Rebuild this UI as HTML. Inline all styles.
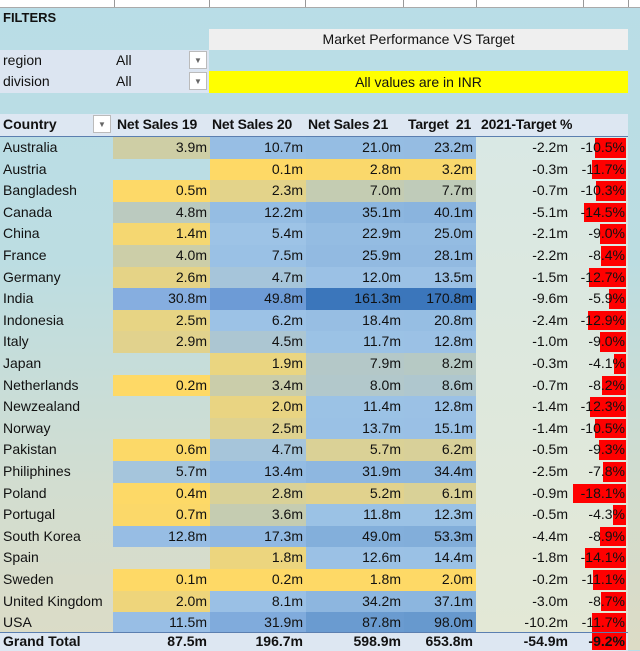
<!DOCTYPE html>
<html><head><meta charset="utf-8">
<style>
body{margin:0;width:640px;height:650px;overflow:hidden;font-family:"Liberation Sans",sans-serif;font-size:14px;color:#111;
background:linear-gradient(180deg,#b9dde7 0%,#bcdde2 40%,#d2ddd0 75%,#dcdcc6 100%);position:relative}
.a{position:absolute;white-space:nowrap}
.grid{position:absolute;top:0;height:18px;border-left:1px solid #999;}
.c{position:absolute;height:21.6px;line-height:21.6px;box-sizing:border-box;white-space:nowrap}
.r{text-align:right;padding-right:3px}
.dd{position:absolute;width:18px;height:18px;background:#fff;border:1px solid #bbb;box-sizing:border-box;font-size:8px;color:#666;text-align:center;line-height:18px}
</style></head><body>
<div class="a" style="left:0;top:0;width:640px;height:7px;background:#fff;border-bottom:1px solid #aaa"></div>
<div class="grid" style="left:114px;height:7px"></div><div class="grid" style="left:209px;height:7px"></div><div class="grid" style="left:305px;height:7px"></div><div class="grid" style="left:403px;height:7px"></div><div class="grid" style="left:476px;height:7px"></div><div class="grid" style="left:583px;height:7px"></div><div class="grid" style="left:628px;height:7px"></div>
<div class="a" style="left:3px;top:10px;font-weight:bold;font-size:13px">FILTERS</div>
<div class="a" style="left:209px;top:29px;width:419px;height:21px;background:#efefef;text-align:center;line-height:21px">Market Performance VS Target</div>
<div class="a" style="left:0;top:50px;width:209px;height:43px;background:#dce5f1"></div>
<div class="a" style="left:3px;top:52px">region</div><div class="a" style="left:116px;top:52px">All</div>
<div class="a" style="left:3px;top:73px">division</div><div class="a" style="left:116px;top:73px">All</div>
<div class="dd" style="left:189px;top:51px">▼</div><div class="dd" style="left:189px;top:72px">▼</div>
<div class="a" style="left:209px;top:71px;width:419px;height:22px;background:#ffff00;text-align:center;line-height:22px">All values are in INR</div>
<div class="a" style="left:0;top:114px;width:628px;height:22px;background:#dde7f2;border-bottom:1px solid #5b7fb0"></div>
<div class="dd" style="left:93px;top:115px">▼</div>
<div class="a" style="left:3px;top:116px;font-weight:bold">Country</div>
<div class="a" style="left:117px;top:116px;font-weight:bold;letter-spacing:-0.2px">Net Sales 19</div>
<div class="a" style="left:212px;top:116px;font-weight:bold;letter-spacing:-0.2px">Net Sales 20</div>
<div class="a" style="left:308px;top:116px;font-weight:bold;letter-spacing:-0.2px">Net Sales 21</div>
<div class="a" style="left:408px;top:116px;font-weight:bold;letter-spacing:-0.2px">Target&nbsp; 21</div>
<div class="a" style="left:481px;top:116px;font-weight:bold;letter-spacing:-0.2px">2021-Target %</div>
<div class="a" style="left:476px;top:137px;width:152px;height:495px;background:linear-gradient(180deg,#d9e8e4,#e3e8d6)"></div>
<div id="rows"></div>
<script>
var d=[["Australia",3.9,10.7,21.0,23.2,-2.2,-10.5],["Austria",null,0.1,2.8,3.2,-0.3,-11.7],["Bangladesh",0.5,2.3,7.0,7.7,-0.7,-10.3],["Canada",4.8,12.2,35.1,40.1,-5.1,-14.5],["China",1.4,5.4,22.9,25.0,-2.1,-9.0],["France",4.0,7.5,25.9,28.1,-2.2,-8.4],["Germany",2.6,4.7,12.0,13.5,-1.5,-12.7],["India",30.8,49.8,161.3,170.8,-9.6,-5.9],["Indonesia",2.5,6.2,18.4,20.8,-2.4,-12.9],["Italy",2.9,4.5,11.7,12.8,-1.0,-9.0],["Japan",null,1.9,7.9,8.2,-0.3,-4.1],["Netherlands",0.2,3.4,8.0,8.6,-0.7,-8.2],["Newzealand",null,2.0,11.4,12.8,-1.4,-12.3],["Norway",null,2.5,13.7,15.1,-1.4,-10.5],["Pakistan",0.6,4.7,5.7,6.2,-0.5,-9.3],["Philiphines",5.7,13.4,31.9,34.4,-2.5,-7.8],["Poland",0.4,2.8,5.2,6.1,-0.9,-18.1],["Portugal",0.7,3.6,11.8,12.3,-0.5,-4.3],["South Korea",12.8,17.3,49.0,53.3,-4.4,-8.9],["Spain",null,1.8,12.6,14.4,-1.8,-14.1],["Sweden",0.1,0.2,1.8,2.0,-0.2,-11.1],["United Kingdom",2.0,8.1,34.2,37.1,-3.0,-8.7],["USA",11.5,31.9,87.8,98.0,-10.2,-11.7]];
var cols=[[113,210],[210,306],[306,404],[404,476]];
function mix(a,b,t){t=Math.max(0,Math.min(1,t));return 'rgb('+a.map((x,i)=>Math.round(x+(b[i]-x)*t)).join(',')+')'}
var Y=[254,217,102],M=[157,195,230];
var mids=[6,5,9,9.5];
var Ds=[[134,174,224],[109,155,214],[59,118,187],[59,118,187]];
var h='';
for(var c=0;c<4;c++){var v=d.map(r=>r[c+1]).filter(x=>x!=null).sort((a,b)=>a-b);var med=mids[c],mx=v[v.length-1],mn=v[0];
d.forEach((r,i)=>{var x=r[c+1];if(x==null)return;var col=x<=med?mix(Y,M,Math.pow((x-mn)/(med-mn),1.6)):mix(M,Ds[c],(x-med)/(mx-med));
h+='<div class="c r" style="left:'+cols[c][0]+'px;width:'+(cols[c][1]-cols[c][0])+'px;top:'+(137+i*21.6)+'px;background:'+col+'">'+x.toFixed(1)+'m</div>';});}
d.forEach((r,i)=>{var t=137+i*21.6;
h+='<div class="c" style="left:3px;top:'+t+'px">'+r[0]+'</div>';
var w=Math.abs(r[6])/18.1*53;
h+='<div class="a" style="left:'+(626-w)+'px;top:'+(t+1)+'px;width:'+w+'px;height:19.6px;background:#ff0000"></div>';
h+='<div class="c r" style="left:476px;width:95px;top:'+t+'px">'+r[5].toFixed(1)+'m</div>';
h+='<div class="c r" style="left:568px;width:60px;top:'+t+'px">'+r[6].toFixed(1)+'%</div>';});
document.getElementById('rows').innerHTML=h;
</script>
<div class="a" style="left:0;top:632px;width:628px;height:18px;background:#dde7f2;border-top:1px solid #5b7fb0"></div>
<div class="a" style="left:3px;top:633px;font-weight:bold">Grand Total</div>
<div class="a" style="left:113px;width:94px;text-align:right;top:633px;font-weight:bold">87.5m</div>
<div class="a" style="left:210px;width:93px;text-align:right;top:633px;font-weight:bold">196.7m</div>
<div class="a" style="left:306px;width:95px;text-align:right;top:633px;font-weight:bold">598.9m</div>
<div class="a" style="left:404px;width:69px;text-align:right;top:633px;font-weight:bold">653.8m</div>
<div class="a" style="left:592px;top:633px;width:34px;height:17px;background:#ff0000"></div>
<div class="a" style="left:476px;width:92px;text-align:right;top:633px;font-weight:bold">-54.9m</div>
<div class="a" style="left:568px;width:57px;text-align:right;top:633px;font-weight:bold">-9.2%</div>
</body></html>
